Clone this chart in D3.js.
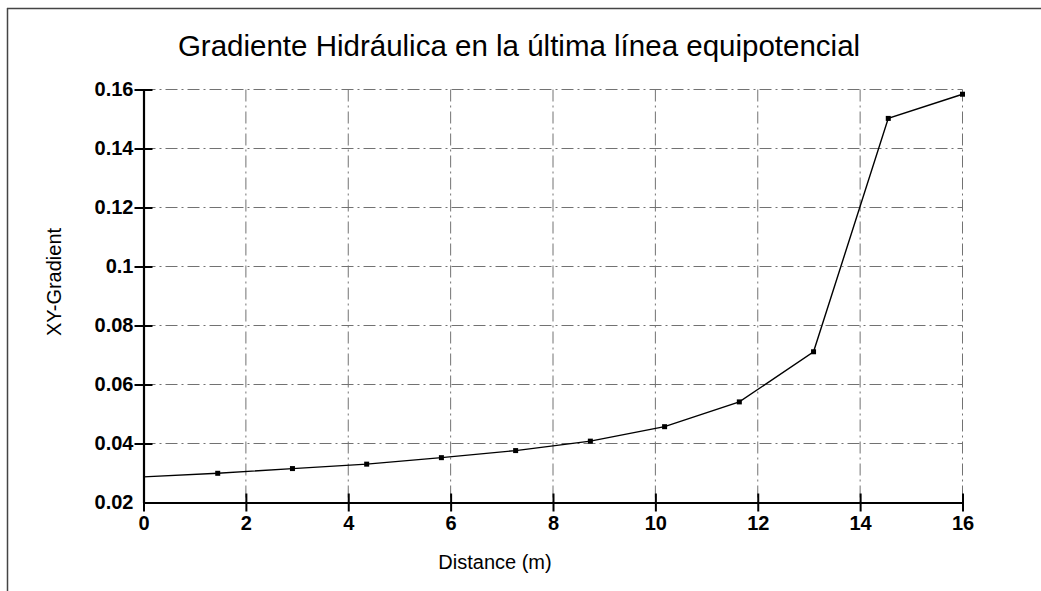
<!DOCTYPE html>
<html>
<head>
<meta charset="utf-8">
<script src="https://cdn.jsdelivr.net/npm/d3@7"></script>
<style>
  html, body { margin: 0; padding: 0; background: #fff; }
  svg { display: block; }
  text { font-family: Arial, "Liberation Sans", sans-serif; fill: #000; }
</style>
</head>
<body>
<svg id="chart" width="1041" height="591"></svg>
<script>
// Hydraulic gradient along the last equipotential line
const distance = [0, 1.45, 2.91, 4.36, 5.82, 7.27, 8.73, 10.18, 11.64, 13.09, 14.55, 16];
const gradient = [0.0287, 0.0299, 0.0315, 0.0330, 0.0352, 0.0376, 0.0408, 0.0457, 0.0541, 0.0711, 0.1502, 0.1584];
const xTicks = [0, 2, 4, 6, 8, 10, 12, 14, 16];
const yTicks = [0.02, 0.04, 0.06, 0.08, 0.1, 0.12, 0.14, 0.16];
const yTickLabels = ["0.02", "0.04", "0.06", "0.08", "0.1", "0.12", "0.14", "0.16"];

const svg = d3.select("#chart");
const W = 1041, H = 591;
const margin = { left: 143.5, right: W - 962.5, top: 89.5, bottom: H - 502.5 };

const x = d3.scaleLinear().domain([0, 16]).range([margin.left, W - margin.right]);
const y = d3.scaleLinear().domain([0.02, 0.16]).range([H - margin.bottom, margin.top]);

// Frame lines (top and left edges of the panel)
svg.append("line").attr("x1", 7).attr("x2", W).attr("y1", 8.5).attr("y2", 8.5)
  .attr("stroke", "#444").attr("stroke-width", 1.5);
svg.append("line").attr("x1", 7.5).attr("x2", 7.5).attr("y1", 8).attr("y2", H)
  .attr("stroke", "#444").attr("stroke-width", 1.5);

// Title
svg.append("text").attr("x", 519).attr("y", 56).attr("text-anchor", "middle")
  .style("font-size", "29.5px").text("Gradiente Hidráulica en la última línea equipotencial");

// Grid (dash-dot)
const grid = svg.append("g").attr("stroke", "#444").attr("stroke-width", 1)
  .attr("stroke-dasharray", "12,4,2,4").attr("fill", "none").attr("opacity", 0.75);
grid.selectAll("line.v").data(xTicks.slice(1)).join("line").attr("class", "v")
  .attr("x1", d => x(d)).attr("x2", d => x(d))
  .attr("y1", y(0.16)).attr("y2", y(0.02));
grid.selectAll("line.h").data(yTicks.slice(1)).join("line").attr("class", "h")
  .attr("x1", x(0)).attr("x2", x(16))
  .attr("y1", d => y(d)).attr("y2", d => y(d));

// Axes
const xAxis = d3.axisBottom(x).tickValues(xTicks).tickSizeInner(9).tickSizeOuter(0).tickPadding(0)
  .tickFormat(d3.format("d"));
const gx = svg.append("g").attr("transform", `translate(0,${y(0.02)})`).call(xAxis);
gx.select(".domain").attr("stroke", "#000").attr("stroke-width", 2.2);
gx.selectAll(".tick line").attr("stroke", "#000").attr("stroke-width", 2)
  .attr("y1", -9).attr("y2", 9);
gx.selectAll(".tick text").style("font-size", "20px").style("font-weight", "bold")
  .attr("y", 27.5).attr("dy", null);

const yAxis = d3.axisLeft(y).tickValues(yTicks).tickSizeInner(9).tickSizeOuter(0).tickPadding(1)
  .tickFormat((d, i) => yTickLabels[i]);
const gy = svg.append("g").attr("transform", `translate(${x(0)},0)`).call(yAxis);
gy.select(".domain").attr("stroke", "#000").attr("stroke-width", 2.2);
gy.selectAll(".tick line").attr("stroke", "#000").attr("stroke-width", 2)
  .attr("x1", -9).attr("x2", 9);
gy.selectAll(".tick text").style("font-size", "20px").style("font-weight", "bold");
gy.selectAll(".tick").filter(d => d === 0.02).select("line").remove();

// Axis titles
svg.append("text").attr("x", 495).attr("y", 569).attr("text-anchor", "middle")
  .style("font-size", "20px").text("Distance (m)");
svg.append("text").attr("transform", "translate(61,282) rotate(-90)")
  .attr("text-anchor", "middle").style("font-size", "20px").text("XY-Gradient");

// Data line and markers
const pts = distance.map((d, i) => [d, gradient[i]]);
svg.append("path").datum(pts)
  .attr("d", d3.line().x(d => x(d[0])).y(d => y(d[1])))
  .attr("fill", "none").attr("stroke", "#000").attr("stroke-width", 1.4);
svg.selectAll("rect.pt").data(pts.slice(1)).join("rect").attr("class", "pt")
  .attr("x", d => x(d[0]) - 2.5).attr("y", d => y(d[1]) - 2.5)
  .attr("width", 5).attr("height", 5).attr("fill", "#000");
</script>
</body>
</html>
